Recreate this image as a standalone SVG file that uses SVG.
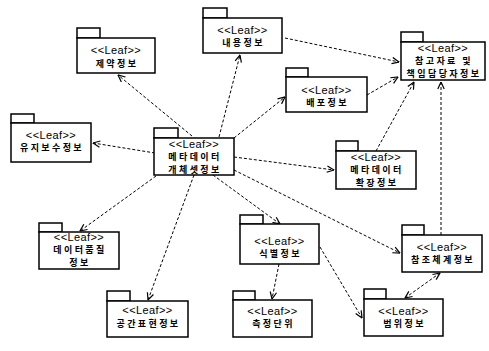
<svg xmlns="http://www.w3.org/2000/svg" width="489" height="351" viewBox="0 0 489 351">
<defs>
<marker id="arr" viewBox="0 0 8 8" refX="7.5" refY="4" markerWidth="8" markerHeight="8" markerUnits="userSpaceOnUse" orient="auto-start-reverse">
<path d="M0.5,0.8 L7.5,4 L0.5,7.2" fill="none" stroke="#000" stroke-width="1.2"/>
</marker>
<style>
.b{fill:#fff;stroke:#000;stroke-width:1.5}
.s{font-family:"Liberation Sans",Arial,sans-serif;font-size:11px;fill:#000;text-anchor:middle;letter-spacing:0.4px}
.k{font-family:"Noto Sans CJK KR","Noto Sans",sans-serif;font-size:9px;font-weight:bold;fill:#000;text-anchor:middle;letter-spacing:2.4px}
.c{fill:none;stroke:#000;stroke-width:1;stroke-dasharray:3,2}
</style>
</defs>
<rect width="489" height="351" fill="#fff"/>
<g id="connectors">
<line class="c" x1="192" y1="136" x2="118" y2="75" marker-end="url(#arr)"/>
<line class="c" x1="219" y1="137" x2="240" y2="55" marker-end="url(#arr)"/>
<line class="c" x1="234" y1="138" x2="285" y2="97" marker-end="url(#arr)"/>
<line class="c" x1="155" y1="153" x2="93" y2="143" marker-end="url(#arr)"/>
<line class="c" x1="234" y1="157" x2="334" y2="170" marker-end="url(#arr)"/>
<line class="c" x1="234" y1="170" x2="400" y2="253" marker-end="url(#arr)"/>
<line class="c" x1="213" y1="175" x2="280" y2="224" marker-end="url(#arr)"/>
<line class="c" x1="156" y1="176" x2="80" y2="231" marker-end="url(#arr)"/>
<line class="c" x1="194" y1="175" x2="148" y2="300" marker-end="url(#arr)"/>
<line class="c" x1="279" y1="264" x2="272" y2="299" marker-end="url(#arr)"/>
<line class="c" x1="320" y1="247" x2="362" y2="318" marker-end="url(#arr)"/>
<line class="c" x1="405" y1="298" x2="440" y2="273" marker-start="url(#arr)" marker-end="url(#arr)"/>
<line class="c" x1="441" y1="235" x2="441" y2="82" marker-end="url(#arr)"/>
<line class="c" x1="376" y1="151" x2="414" y2="82" marker-end="url(#arr)"/>
<line class="c" x1="367" y1="95" x2="398" y2="77" marker-end="url(#arr)"/>
<line class="c" x1="285" y1="38" x2="399" y2="62" marker-end="url(#arr)"/>
</g>
<g id="n-jeyak">
<rect class="b" x="77" y="28" width="23" height="10"/>
<rect class="b" x="77" y="38" width="78" height="35"/>
<text class="s" x="116" y="54">&lt;&lt;Leaf&gt;&gt;</text>
<text class="k" x="117" y="67">제약정보</text>
</g>
<g id="n-naeyong">
<rect class="b" x="203" y="8" width="24" height="10"/>
<rect class="b" x="203" y="18" width="79" height="35"/>
<text class="s" x="242.5" y="34">&lt;&lt;Leaf&gt;&gt;</text>
<text class="k" x="243.5" y="46">내용정보</text>
</g>
<g id="n-chamgo">
<rect class="b" x="401" y="32" width="22" height="10"/>
<rect class="b" x="401" y="42" width="84" height="38"/>
<text class="s" x="443" y="51.5">&lt;&lt;Leaf&gt;&gt;</text>
<text class="k" x="444" y="63.5">참고자료 및</text>
<text class="k" x="444" y="77">책임담당자정보</text>
</g>
<g id="n-baepo">
<rect class="b" x="286" y="68" width="22" height="9"/>
<rect class="b" x="286" y="77" width="81" height="35"/>
<text class="s" x="326.5" y="94">&lt;&lt;Leaf&gt;&gt;</text>
<text class="k" x="327.5" y="106">배포정보</text>
</g>
<g id="n-yuji">
<rect class="b" x="11" y="114" width="23" height="9"/>
<rect class="b" x="11" y="123" width="80" height="39"/>
<text class="s" x="51" y="139">&lt;&lt;Leaf&gt;&gt;</text>
<text class="k" x="52" y="151">유지보수정보</text>
</g>
<g id="n-gaecheset">
<rect class="b" x="154" y="128" width="24" height="10"/>
<rect class="b" x="154" y="138" width="80" height="37"/>
<text class="s" x="194" y="147.5">&lt;&lt;Leaf&gt;&gt;</text>
<text class="k" x="195" y="159.5">메타데이터</text>
<text class="k" x="195" y="173">개체셋정보</text>
</g>
<g id="n-hwakjang">
<rect class="b" x="336" y="141" width="22" height="10"/>
<rect class="b" x="336" y="151" width="80" height="38"/>
<text class="s" x="376" y="160.5">&lt;&lt;Leaf&gt;&gt;</text>
<text class="k" x="377" y="172.5">메타데이터</text>
<text class="k" x="377" y="186">확장정보</text>
</g>
<g id="n-pumjil">
<rect class="b" x="39" y="223" width="23" height="9"/>
<rect class="b" x="39" y="232" width="80" height="37"/>
<text class="s" x="79" y="240.5">&lt;&lt;Leaf&gt;&gt;</text>
<text class="k" x="80" y="252.5">데이터품질</text>
<text class="k" x="80" y="266">정보</text>
</g>
<g id="n-gonggan">
<rect class="b" x="107" y="291" width="23" height="10"/>
<rect class="b" x="107" y="301" width="81" height="36"/>
<text class="s" x="147.5" y="314">&lt;&lt;Leaf&gt;&gt;</text>
<text class="k" x="148.5" y="327">공간표현정보</text>
</g>
<g id="n-sikbyeol">
<rect class="b" x="240" y="215" width="23" height="9"/>
<rect class="b" x="240" y="224" width="79" height="40"/>
<text class="s" x="279.5" y="245">&lt;&lt;Leaf&gt;&gt;</text>
<text class="k" x="280.5" y="257">식별정보</text>
</g>
<g id="n-cheukjeong">
<rect class="b" x="233" y="291" width="22" height="9"/>
<rect class="b" x="233" y="300" width="79" height="37"/>
<text class="s" x="272.5" y="315">&lt;&lt;Leaf&gt;&gt;</text>
<text class="k" x="273.5" y="327">측정단위</text>
</g>
<g id="n-chamjo">
<rect class="b" x="402" y="225" width="22" height="10"/>
<rect class="b" x="402" y="235" width="80" height="37"/>
<text class="s" x="442" y="251">&lt;&lt;Leaf&gt;&gt;</text>
<text class="k" x="443" y="263">참조체계정보</text>
</g>
<g id="n-beomwi">
<rect class="b" x="364" y="289" width="22" height="10"/>
<rect class="b" x="364" y="299" width="79" height="37"/>
<text class="s" x="403.5" y="315">&lt;&lt;Leaf&gt;&gt;</text>
<text class="k" x="404.5" y="327">범위정보</text>
</g>
</svg>
